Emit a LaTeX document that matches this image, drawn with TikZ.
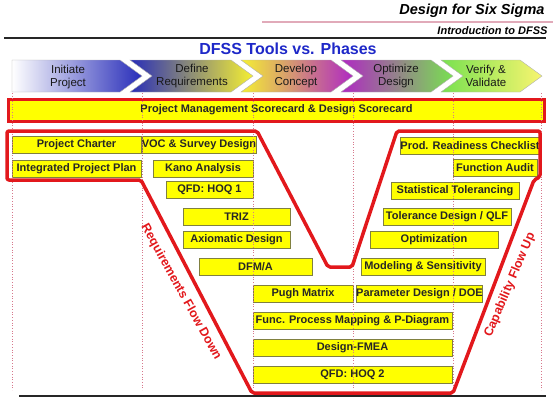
\documentclass[tikz,border=0pt]{standalone}
\usepackage{fontspec}
\setmainfont{Liberation Sans}
\usetikzlibrary{positioning}
\definecolor{vred}{RGB}{226,24,28}
\definecolor{boxyellow}{RGB}{255,255,0}
\definecolor{boxedge}{RGB}{128,128,64}
\definecolor{titleblue}{RGB}{30,40,200}
\definecolor{guidepink}{RGB}{215,120,140}
\definecolor{headpink}{RGB}{225,170,185}
\definecolor{phaseblue}{RGB}{40,45,185}
\definecolor{phaseyellow}{RGB}{245,240,50}
\definecolor{phasepurple}{RGB}{175,40,195}
\definecolor{phasegreen}{RGB}{120,225,80}
\newcommand{\boxfont}{\fontsize{11}{12}\selectfont\bfseries}

\begin{document}
\begin{tikzpicture}[x=1pt, y=-1pt,
  tool/.style={draw=boxedge, fill=boxyellow, line width=.6pt, minimum height=17,
    inner sep=0pt, font=\boxfont, text=black!85},
  phase/.style={align=center, font=\fontsize{11.5}{13.5}\selectfont, text=black!90},
  chev/.style={draw=black!30, line width=.4pt},
  guide/.style={guidepink, dotted, line width=.7pt},
  flow/.style={vred, font=\fontsize{12.5}{14}\selectfont\bfseries}]
  \useasboundingbox (0,0) rectangle (557,400);

  \node[anchor=east, font=\fontsize{14.5}{16}\selectfont\bfseries\itshape] (dfss) at (548,11) {Design for Six Sigma};
  \draw[headpink, line width=1.2pt] (262,22) -- (553,22);
  \node[anchor=east, font=\fontsize{11}{12}\selectfont\bfseries\itshape] (intro) at (551,31) {Introduction to DFSS};
  \draw[black!85, line width=2.5pt] (4,38) -- (546,38);
  \node[titleblue, font=\fontsize{16}{18}\selectfont\bfseries] (title) at (288,49) {DFSS Tools vs. Phases};

  \shade[chev, left color=white, middle color=white!75!phaseblue, right color=phaseblue]
    (12,60) -- (120,60) -- (142,76) -- (120,92) -- (12,92) -- cycle;
  \shade[chev, left color=phaseblue, right color=phaseyellow]
    (130,60) -- (231,60) -- (253,76) -- (231,92) -- (130,92) -- (152,76) -- cycle;
  \shade[chev, left color=phaseyellow, right color=phasepurple]
    (241,60) -- (331,60) -- (353,76) -- (331,92) -- (241,92) -- (263,76) -- cycle;
  \shade[chev, left color=phasepurple, right color=phasegreen]
    (341,60) -- (431,60) -- (453,76) -- (431,92) -- (341,92) -- (363,76) -- cycle;
  \shade[chev, left color=phasegreen, right color=phaseyellow!70!white]
    (441,60) -- (520,60) -- (542,76) -- (520,92) -- (441,92) -- (463,76) -- cycle;
  \node[phase] (initiate) at (68,77) {Initiate\\Project};
  \node[phase] (define) at (192,76) {Define\\Requirements};
  \node[phase] (develop) at (296,76) {Develop\\Concept};
  \node[phase] (optimize) at (396,76) {Optimize\\Design};
  \node[phase] (verify) at (486,76) {Verify \&\\Validate};

  \node[tool, draw=vred, line width=3pt, minimum width=536, minimum height=22] (scorecard) at (276.5,110)
    {Project Management Scorecard \& Design Scorecard};

  \node[tool, minimum width=129] (charter) at (76.5,145) {Project Charter};
  \node[tool, minimum width=129] (plan) at (76.5,168.5) {Integrated Project Plan};
  \node[tool, minimum width=108] (voc) at (199,145) {VOC \& Survey Design};
  \node[tool, minimum width=100] (kano) at (203,168.5) {Kano Analysis};
  \node[tool, minimum width=87] (hoqone) at (209.5,189.5) {QFD: HOQ 1};
  \node[tool, minimum width=107] (triz) at (236.5,216.5) {TRIZ};
  \node[tool, minimum width=107] (axiomatic) at (236.5,239.5) {Axiomatic Design};
  \node[tool, minimum width=113] (dfma) at (255.5,266.5) {DFM/A};
  \node[tool, minimum width=100] (pugh) at (303,294) {Pugh Matrix};
  \node[tool, minimum width=125] (param) at (419.5,294) {Parameter Design / DOE};
  \node[tool, minimum width=199] (mapping) at (352.5,321) {Func. Process Mapping \& P-Diagram};
  \node[tool, minimum width=199] (fmea) at (352.5,348) {Design-FMEA};
  \node[tool, minimum width=199] (hoqtwo) at (352.5,374.5) {QFD: HOQ 2};
  \node[tool, minimum width=134] (readiness) at (470,145.5) {Prod. Readiness Checklist};
  \node[tool, minimum width=84] (audit) at (495,168) {Function Audit};
  \node[tool, minimum width=128] (stattol) at (455,190.5) {Statistical Tolerancing};
  \node[tool, minimum width=128] (toldesign) at (447,217) {Tolerance Design / QLF};
  \node[tool, minimum width=128] (optimization) at (434,239.5) {Optimization};
  \node[tool, minimum width=124] (modeling) at (423,266.5) {Modeling \& Sensitivity};

  \foreach \x in {12,142,253,353,453,541}
    \draw[guide] (\x,93) -- (\x,390);

  \draw[vred, line width=3.5pt, rounded corners=2pt, line join=round]
    (7,131) -- (257,131) -- (328,267) -- (352,267) -- (397,131) -- (540,131) -- (540,177)
    -- (534,180) -- (453,393) -- (252,393) -- (141,180) -- (7,180) -- cycle;
  \node[flow, rotate=-61] (reqflow) at (181,292) {Requirements Flow Down};
  \node[flow, rotate=67] (capflow) at (510,285) {Capability Flow Up};

  \draw[black!85, line width=2.5pt] (19,396) -- (546,396);
\end{tikzpicture}
\end{document}
